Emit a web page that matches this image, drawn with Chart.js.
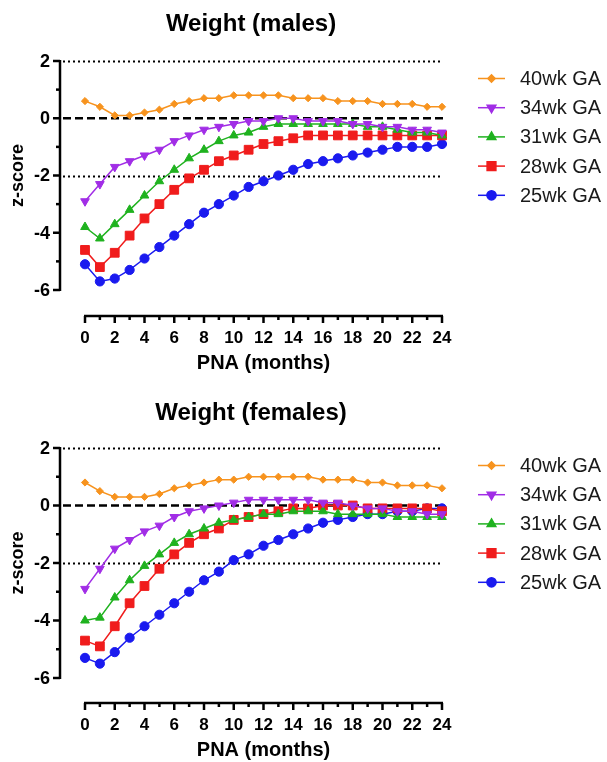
<!DOCTYPE html>
<html>
<head>
<meta charset="utf-8">
<script src="https://cdn.jsdelivr.net/npm/chart.js@4/dist/chart.umd.min.js"></script>
<style>
  html, body { margin: 0; padding: 0; background: #fff; }
  canvas { position: absolute; left: 0; }
</style>
</head>
<body>
<canvas id="males" width="607" height="380" style="top:0px"></canvas>
<canvas id="females" width="607" height="382" style="top:380px"></canvas>
<script>
// x values (months of postnatal age)
const months = [0,1,2,3,4,5,6,7,8,9,10,11,12,13,14,15,16,17,18,19,20,21,22,23,24];
const xTickLabels = [0,2,4,6,8,10,12,14,16,18,20,22,24];
const yTickLabels = [2,0,-2,-4,-6];
const seriesNames = ['40wk GA','34wk GA','31wk GA','28wk GA','25wk GA'];

// males z-scores
const males40 = [0.6,0.4,0.1,0.1,0.2,0.3,0.5,0.6,0.7,0.7,0.8,0.8,0.8,0.8,0.7,0.7,0.7,0.6,0.6,0.6,0.5,0.5,0.5,0.4,0.4];
const males34 = [-2.9,-2.3,-1.7,-1.5,-1.3,-1.1,-0.8,-0.6,-0.4,-0.3,-0.2,-0.1,-0.1,0,0,-0.1,-0.1,-0.1,-0.2,-0.2,-0.3,-0.3,-0.4,-0.4,-0.5];
const males31 = [-3.8,-4.2,-3.7,-3.2,-2.7,-2.2,-1.8,-1.4,-1.1,-0.8,-0.6,-0.5,-0.3,-0.2,-0.2,-0.2,-0.2,-0.2,-0.2,-0.3,-0.3,-0.4,-0.5,-0.5,-0.6];
const males28 = [-4.6,-5.2,-4.7,-4.1,-3.5,-3.0,-2.5,-2.1,-1.8,-1.5,-1.3,-1.1,-0.9,-0.8,-0.7,-0.6,-0.6,-0.6,-0.6,-0.6,-0.6,-0.6,-0.6,-0.6,-0.6];
const males25 = [-5.1,-5.7,-5.6,-5.3,-4.9,-4.5,-4.1,-3.7,-3.3,-3.0,-2.7,-2.4,-2.2,-2.0,-1.8,-1.6,-1.5,-1.4,-1.3,-1.2,-1.1,-1.0,-1.0,-1.0,-0.9];

// females z-scores
const females40 = [0.8,0.5,0.3,0.3,0.3,0.4,0.6,0.7,0.8,0.9,0.9,1.0,1.0,1.0,1.0,1.0,0.9,0.9,0.9,0.8,0.8,0.7,0.7,0.7,0.6];
const females34 = [-2.9,-2.2,-1.5,-1.2,-0.9,-0.7,-0.4,-0.2,-0.1,0.0,0.1,0.2,0.2,0.2,0.2,0.2,0.1,0.1,0.0,-0.1,-0.1,-0.2,-0.2,-0.3,-0.3];
const females31 = [-4.0,-3.9,-3.2,-2.6,-2.1,-1.7,-1.3,-1.0,-0.8,-0.6,-0.5,-0.4,-0.3,-0.3,-0.2,-0.2,-0.2,-0.3,-0.3,-0.3,-0.3,-0.4,-0.4,-0.4,-0.4];
const females28 = [-4.7,-4.9,-4.2,-3.4,-2.8,-2.2,-1.7,-1.3,-1.0,-0.8,-0.5,-0.4,-0.3,-0.2,-0.1,-0.1,0,0,0,-0.1,-0.1,-0.1,-0.1,-0.1,-0.2];
const females25 = [-5.3,-5.5,-5.1,-4.6,-4.2,-3.8,-3.4,-3.0,-2.6,-2.3,-1.9,-1.7,-1.4,-1.2,-1.0,-0.8,-0.6,-0.5,-0.4,-0.3,-0.3,-0.2,-0.2,-0.1,-0.1];

const colors = ['#f7931e', '#a12de6', '#1fb21f', '#f01c1c', '#1a1aef'];
const markers = ['rectRot', 'triangle', 'triangle', 'rect', 'circle'];
const markerRot = [0, 180, 0, 0, 0];
const markerSize = [3.6, 5, 5, 6.2, 4.6];

const FONT = '"Liberation Sans", Arial, Helvetica, sans-serif';

const prismPlugin = {
  id: 'prism',
  beforeDatasetsDraw(chart) {
    const ctx = chart.ctx, xs = chart.scales.x, ys = chart.scales.y;
    const x0 = xs.getPixelForValue(0) - 22, x1 = xs.getPixelForValue(24);
    ctx.save();
    ctx.strokeStyle = '#000';
    // dotted lines at +2 / -2
    ctx.lineWidth = 2;
    ctx.setLineDash([2, 3]);
    [2, -2].forEach(v => {
      const y = Math.round(ys.getPixelForValue(v)) + 0.5;
      ctx.beginPath(); ctx.moveTo(x0, y); ctx.lineTo(x1, y); ctx.stroke();
    });
    // dashed line at 0
    ctx.lineWidth = 2.5;
    ctx.setLineDash([8, 4]);
    const y0 = ys.getPixelForValue(0);
    ctx.beginPath(); ctx.moveTo(x0, y0); ctx.lineTo(x1 + 1, y0); ctx.stroke();
    ctx.restore();
  },
  afterDraw(chart, args, opts) {
    const ctx = chart.ctx, xs = chart.scales.x, ys = chart.scales.y;
    const area = chart.chartArea;
    ctx.save();
    ctx.strokeStyle = '#000';
    ctx.fillStyle = '#000';
    ctx.lineWidth = 2.5;
    ctx.setLineDash([]);

    // y axis, detached to the left
    const ax = area.left - 25;
    const yTop = ys.getPixelForValue(2), yBot = ys.getPixelForValue(-6);
    ctx.beginPath(); ctx.moveTo(ax, yTop - 1); ctx.lineTo(ax, yBot + 1); ctx.stroke();
    for (let v = -6; v <= 2; v++) {
      const y = ys.getPixelForValue(v);
      const len = (v % 2 === 0) ? 7 : 4;
      ctx.beginPath(); ctx.moveTo(ax, y); ctx.lineTo(ax - len, y); ctx.stroke();
    }
    ctx.font = 'bold 18px ' + FONT;
    ctx.textAlign = 'right';
    ctx.textBaseline = 'middle';
    yTickLabels.forEach(v => ctx.fillText(String(v), ax - 10, ys.getPixelForValue(v) + 1));

    ctx.save();
    ctx.translate(18, (yTop + yBot) / 2);
    ctx.rotate(-Math.PI / 2);
    ctx.textAlign = 'center';
    ctx.font = 'bold 18px ' + FONT;
    ctx.fillText('z-score', 0, 0);
    ctx.restore();

    // x axis, detached below
    const ay = area.bottom + opts.xGap;
    const xl = xs.getPixelForValue(0), xr = xs.getPixelForValue(24);
    ctx.beginPath(); ctx.moveTo(xl - 1, ay); ctx.lineTo(xr + 1, ay); ctx.stroke();
    months.forEach(m => {
      const x = xs.getPixelForValue(m);
      const len = (m % 2 === 0) ? 7 : 4;
      ctx.beginPath(); ctx.moveTo(x, ay); ctx.lineTo(x, ay + len); ctx.stroke();
    });
    ctx.font = 'bold 17px ' + FONT;
    ctx.textAlign = 'center';
    xTickLabels.forEach(m => ctx.fillText(String(m), xs.getPixelForValue(m), ay + 22));
    ctx.font = 'bold 20px ' + FONT;
    ctx.fillText('PNA (months)', (xl + xr) / 2, ay + 47);

    // title
    ctx.font = 'bold 24px ' + FONT;
    ctx.fillText(opts.title, (ax + xr) / 2, opts.titleY);

    // legend
    ctx.lineWidth = 1.5;
    ctx.font = '20px ' + FONT;
    ctx.textAlign = 'left';
    seriesNames.forEach((name, i) => {
      const y = area.top + 17.5 + i * 29.2;
      ctx.strokeStyle = colors[i];
      ctx.fillStyle = colors[i];
      ctx.beginPath(); ctx.moveTo(478, y); ctx.lineTo(505, y); ctx.stroke();
      Chart.helpers.drawPoint(ctx, {pointStyle: markers[i], rotation: markerRot[i], radius: markerSize[i], borderWidth: 1}, 491.5, y);
      ctx.fillStyle = '#1a1a1a';
      ctx.fillText(name, 520, y + 1);
    });
    ctx.restore();
  }
};

function makeChart(id, series, title, pad, titleY, xGap) {
  const datasets = series.map((vals, i) => ({
    label: seriesNames[i],
    data: months.map((m, k) => ({x: m, y: vals[k]})),
    borderColor: colors[i],
    backgroundColor: colors[i],
    pointBackgroundColor: colors[i],
    pointBorderColor: colors[i],
    pointStyle: markers[i],
    pointRotation: markerRot[i],
    pointRadius: markerSize[i],
    pointBorderWidth: 1,
    borderWidth: 1.5,
    tension: 0,
    clip: false
  }));
  return new Chart(document.getElementById(id), {
    type: 'line',
    data: {datasets},
    options: {
      responsive: false,
      animation: false,
      layout: {padding: pad},
      scales: {
        x: {type: 'linear', min: 0, max: 24, display: false},
        y: {type: 'linear', min: -6, max: 2, display: false}
      },
      plugins: {
        legend: {display: false},
        tooltip: {enabled: false},
        prism: {title, titleY, xGap}
      }
    },
    plugins: [prismPlugin]
  });
}

makeChart('males', [males40, males34, males31, males28, males25], 'Weight (males)',
  {left: 85, right: 165, top: 61, bottom: 90}, 24, 26);
makeChart('females', [females40, females34, females31, females28, females25], 'Weight (females)',
  {left: 85, right: 165, top: 68, bottom: 84}, 33, 25);
</script>
</body>
</html>
